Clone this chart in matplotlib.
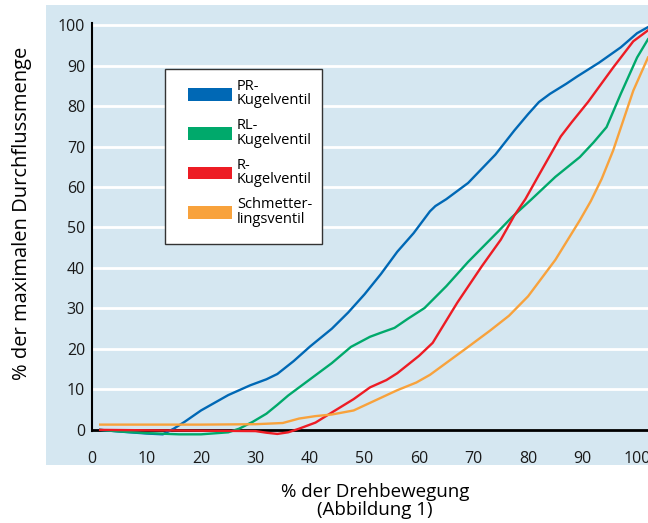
import matplotlib.pyplot as plt
import matplotlib.patches as mpatches

plt.rcParams['font.family'] = ['Open Sans', 'DejaVu Sans']

# % der Drehbewegung / % der maximalen Durchflussmenge
pr_x = [1.5, 5, 10, 13, 15, 17, 20, 25, 29, 32, 34, 37, 40, 44, 47, 50, 53, 56, 59, 62, 63, 65,
        69, 74, 77.5, 80, 82, 84, 87, 89, 93, 97, 100, 102]
pr_y = [0.0, -0.4, -0.9, -1.1, 0.3, 2.0, 4.8, 8.6, 11.0, 12.5, 13.8, 17, 20.6, 25, 29, 33.5, 38.5,
        44, 48.6, 54, 55.3, 57, 61, 68, 74, 78, 81, 83, 85.5, 87.3, 90.7, 94.5, 98, 99.5]

rl_x = [1.5, 5, 10, 16, 20, 25, 27, 29.5, 32, 34, 36, 38, 41, 44, 47.5, 51, 53, 55.5, 58, 61, 65,
        69, 74.5, 77, 80.5, 85, 89.5, 92, 94.4, 97, 100, 102]
rl_y = [0, -0.4, -0.8, -1.1, -1.1, -0.6, 0.3, 2, 4, 6.2, 8.5, 10.5, 13.5, 16.5, 20.5, 23, 24, 25.2,
        27.5, 30.1, 35.5, 41.5, 49, 52.5, 56.8, 62.5, 67.4, 71, 74.8, 83, 92, 96.5]

r_x = [1.5, 10, 20, 30, 32, 34, 36, 38, 41, 44, 48, 51, 54, 56, 60, 62.5, 67, 71.5, 75, 77.5, 79.5,
       82, 86, 88, 91, 95.6, 99.3, 102]
r_y = [0, -0.1, -0.2, -0.3, -0.7, -1, -0.6, 0.3, 1.8, 4.3, 7.6, 10.5, 12.3, 14, 18.3, 21.5, 31.4,
       40.4, 47, 53, 57, 63, 72.5, 76, 81, 89.5, 96, 98.7]

sm_x = [1.5, 10, 20, 30, 35, 38, 41, 44, 48, 52, 56, 59.5, 62, 68.5, 73, 76.5, 80, 85, 89.5, 91.5,
        93.5, 95.6, 99.3, 102]
sm_y = [1.3, 1.3, 1.3, 1.4, 1.7, 2.8, 3.4, 3.8, 4.8, 7.3, 9.8, 11.7, 13.6, 20, 24.5, 28.2, 33, 42,
        51.8, 56.5, 62, 69, 83.8, 92]

labels = ['PR-\nKugelventil', 'RL-\nKugelventil', 'R-\nKugelventil', 'Schmetter-\nlingsventil']
colors = ['#0068b5', '#00a96b', '#ed1c24', '#f8a23c']
x_ticks = list(range(0, 101, 10))
y_ticks = list(range(0, 101, 10))

fig = plt.figure(figsize=(6.48, 5.23), dpi=100)

# light blue panel behind the chart
panel = mpatches.Rectangle((46 / 648, 1 - 465 / 523), 1.0, 460 / 523,
                           transform=fig.transFigure, facecolor='#d5e7f1',
                           edgecolor='none', zorder=-5)
fig.patches.append(panel)

ax = fig.add_axes([92 / 648, 1 - 440 / 523, 1 - 92 / 648, (440 - 17) / 523])
ax.set_facecolor('none')
ax.set_zorder(1)
ax.set_xlim(0, 102)
ax.set_ylim(-2.5, 102)

for t in y_ticks[1:]:
    ax.axhline(t, color='white', lw=2, zorder=1)
ax.axhline(0, color='black', lw=2, zorder=2)

series = [(pr_x, pr_y), (rl_x, rl_y), (r_x, r_y), (sm_x, sm_y)]
for (xs, ys), c in zip(series, colors):
    ax.plot(xs, ys, color=c, lw=1.7, zorder=3)

for s in ['top', 'right', 'bottom']:
    ax.spines[s].set_visible(False)
ax.spines['left'].set_linewidth(1.5)
ax.spines['left'].set_bounds(-0.3, 100.5)

ax.set_xticks(x_ticks)
ax.set_yticks(y_ticks)
ax.tick_params(length=0, labelsize=11.5, colors='#1a1a1a')
ax.tick_params(axis='x', pad=8)
ax.tick_params(axis='y', pad=5)

# legend box drawn separately so the inner padding can match
box = mpatches.Rectangle((165 / 648, 1 - 244 / 523), 157 / 648, 175 / 523,
                         transform=fig.transFigure, facecolor='white',
                         edgecolor='#333333', lw=1.0, zorder=4)
ax.add_artist(box)
box.set_clip_on(False)

handles = [mpatches.Patch(facecolor=c, edgecolor='none') for c in colors]
leg = ax.legend(handles, labels, loc='upper left',
                bbox_to_anchor=(188 / 648, 1 - 79 / 523),
                bbox_transform=fig.transFigure, fontsize=10.5, frameon=False,
                handlelength=3.0, handleheight=0.95, labelspacing=0.68,
                borderpad=0, handletextpad=0.35, borderaxespad=0)
leg.set_zorder(5)
for t in leg.get_texts():
    t.set_linespacing(0.95)

fig.text(22 / 648, 1 - 213 / 523, '% der maximalen Durchflussmenge', rotation=90,
         ha='center', va='center', fontsize=14.5)
fig.text(375 / 648, 1 - 501 / 523, '% der Drehbewegung\n(Abbildung 1)',
         ha='center', va='center', fontsize=13.5, linespacing=1.05)

plt.savefig('out.png', dpi=100)
